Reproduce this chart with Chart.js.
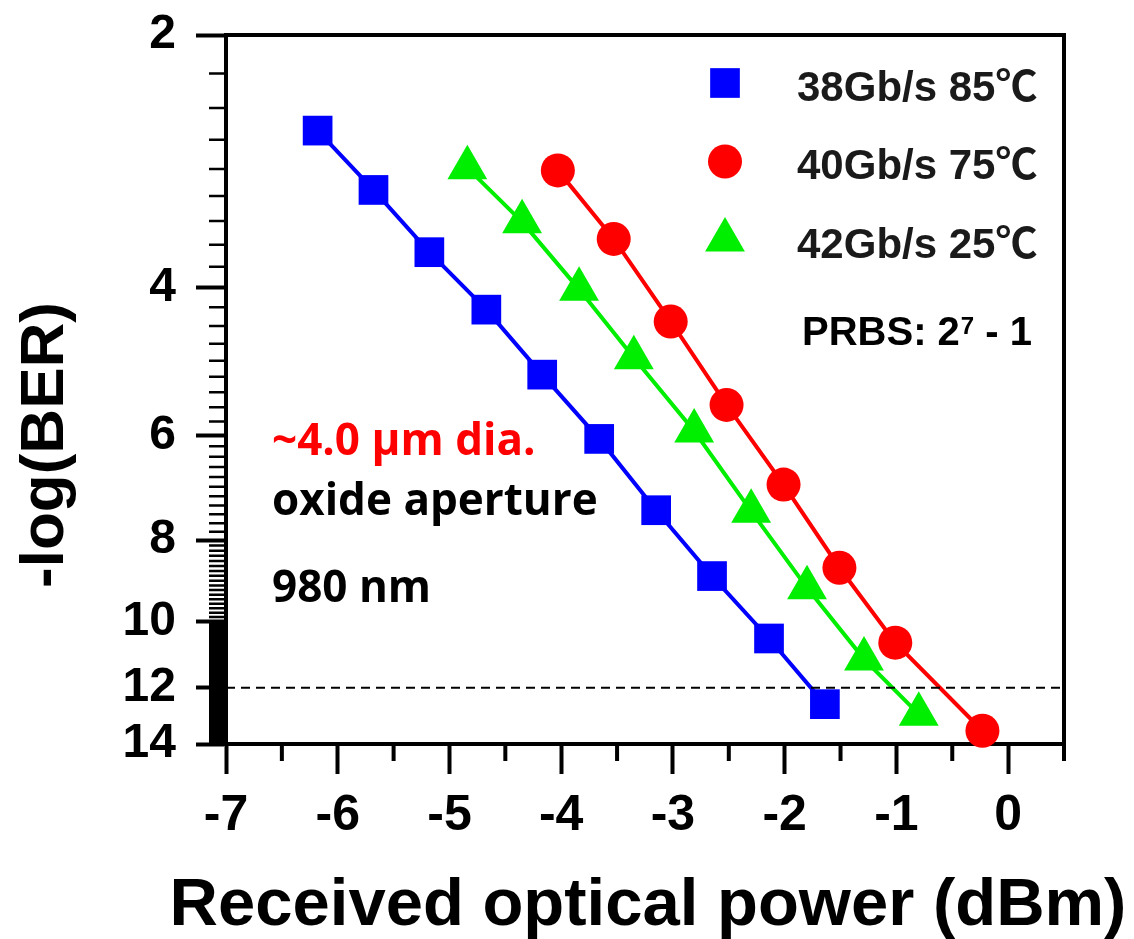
<!DOCTYPE html>
<html>
<head>
<meta charset="utf-8">
<title>BER vs received optical power</title>
<script src="https://cdn.jsdelivr.net/npm/chart.js@4.4.1/dist/chart.umd.min.js"></script>
<style>
  html, body { margin: 0; padding: 0; background: #fff; }
  #wrap { width: 1134px; height: 939px; }
</style>
</head>
<body>
<div id="wrap"><canvas id="ber" width="1134" height="939"></canvas></div>
<script>
// values: received power (dBm) and -log(BER)
const seriesLabels = ['38Gb/s 85℃', '40Gb/s 75℃', '42Gb/s 25℃'];
const power38 = [-6.18, -5.68, -5.18, -4.67, -4.17, -3.66, -3.15, -2.65, -2.14, -1.64];
const ber38 = [2.60, 3.06, 3.63, 4.25, 5.08, 6.06, 7.37, 8.83, 10.48, 12.55];
const power40 = [-4.03, -3.53, -3.02, -2.52, -2.01, -1.51, -1.01, -0.23];
const ber40 = [2.90, 3.50, 4.39, 5.52, 6.87, 8.63, 10.60, 13.50];
const power42 = [-4.84, -4.35, -3.84, -3.35, -2.81, -2.30, -1.80, -1.29, -0.80];
const ber42 = [2.88, 3.34, 4.02, 4.85, 5.93, 7.39, 9.12, 11.09, 12.90];
const errorFloor = 12; // dashed line
const xRange = [-7, 0.5];
const xTicks = [-7, -6, -5, -4, -3, -2, -1, 0];
const xMinor = [-6.5, -5.5, -4.5, -3.5, -2.5, -1.5, -0.5, 0.5];
const yTicks = [2, 4, 6, 8, 10, 12, 14];

const SANS = "'Liberation Sans', Arial, 'Noto Sans CJK SC', sans-serif";
const BLUE = '#0000ff';
const RED = '#ff0000';
const GREEN = '#00ee00';

function points(xs, ys) {
  return xs.map((x, i) => ({ x: x, y: ys[i] }));
}

// minor ticks on the BER axis get denser toward the bottom
function minorValues(stops, counts) {
  const out = [];
  for (let i = 0; i < counts.length; i++) {
    const a = stops[i], b = stops[i + 1], n = counts[i];
    for (let k = 1; k <= n; k++) out.push(a + (b - a) * k / (n + 1));
  }
  return out;
}
const yMinor = minorValues(yTicks, [8, 8, 10, 16, 30, 30]);

const decor = {
  id: 'decor',
  beforeDatasetsDraw(chart) {
    const { ctx, chartArea: a, scales: { x, y } } = chart;
    ctx.save();
    ctx.strokeStyle = '#000';
    ctx.lineWidth = 4;
    ctx.beginPath();
    ctx.moveTo(a.left, a.top);
    ctx.lineTo(a.right, a.top);
    ctx.lineTo(a.right, a.bottom);
    ctx.stroke();

    ctx.lineWidth = 2.5;
    ctx.beginPath();
    yMinor.forEach(v => {
      const py = y.getPixelForValue(v);
      ctx.moveTo(a.left - 17, py);
      ctx.lineTo(a.left, py);
    });
    ctx.stroke();

    ctx.lineWidth = 4;
    ctx.beginPath();
    xMinor.forEach(v => {
      const px = x.getPixelForValue(v);
      ctx.moveTo(px, a.bottom);
      ctx.lineTo(px, a.bottom + 17);
    });
    ctx.stroke();
    ctx.restore();
  },
  afterDraw(chart) {
    const ctx = chart.ctx;
    ctx.save();

    // axis titles (wider than the plot, so drawn here)
    ctx.fillStyle = '#000';
    ctx.font = 'bold 67px ' + SANS;
    ctx.textAlign = 'center';
    ctx.textBaseline = 'alphabetic';
    ctx.fillText('Received optical power (dBm)', 648, 925);

    ctx.font = 'bold 62px ' + SANS;
    ctx.textBaseline = 'middle';
    ctx.save();
    ctx.translate(46, 445);
    ctx.rotate(-Math.PI / 2);
    ctx.fillText('-log(BER)', 0, 0);
    ctx.restore();

    // legend
    const sets = chart.data.datasets.filter(ds => ds.label);
    ctx.textAlign = 'left';
    sets.forEach((ds, i) => {
      const cy = 83 + i * 78.5;
      ctx.fillStyle = ds.backgroundColor;
      ctx.strokeStyle = ds.borderColor;
      Chart.helpers.drawPoint(ctx, {
        pointStyle: ds.pointStyle, radius: ds.pointRadius, rotation: 0, borderWidth: 0
      }, 725, cy);
      ctx.fillStyle = '#1a1a1a';
      ctx.font = 'bold 42px ' + SANS;
      ctx.textBaseline = 'middle';
      ctx.fillText(ds.label, 797, cy + 6);
    });

    // PRBS: 2^7 - 1
    ctx.fillStyle = '#000';
    ctx.textBaseline = 'alphabetic';
    ctx.font = 'bold 40px ' + SANS;
    let px = 802;
    ctx.fillText('PRBS: 2', px, 345);
    px += ctx.measureText('PRBS: 2').width + 1;
    ctx.font = 'bold 24px ' + SANS;
    ctx.fillText('7', px, 334);
    px += ctx.measureText('7').width;
    ctx.font = 'bold 40px ' + SANS;
    ctx.fillText(' - 1', px, 345);

    // device notes
    ctx.font = "bold 44px 'Open Sans', " + SANS;
    ctx.fillStyle = '#ff0000';
    ctx.fillText('~4.0 μm dia.', 272, 455);
    ctx.fillStyle = '#000';
    ctx.fillText('oxide aperture', 272, 515);
    ctx.fillText('980 nm', 272, 602);
    ctx.restore();
  }
};

const series = (label, xs, ys, color, style, radius) => ({
  label: label,
  data: points(xs, ys),
  borderColor: color,
  backgroundColor: color,
  borderWidth: 4,
  pointStyle: style,
  pointRadius: radius,
  pointBorderWidth: 0,
  pointHoverRadius: radius,
  tension: 0,
  fill: false,
  clip: false,
  order: 1
});

new Chart(document.getElementById('ber').getContext('2d'), {
  type: 'line',
  data: {
    datasets: [
      series(seriesLabels[0], power38, ber38, BLUE, 'rect', 21),
      series(seriesLabels[1], power40, ber40, RED, 'circle', 17),
      series(seriesLabels[2], power42, ber42, GREEN, 'triangle', 23),
      {
        label: '',
        data: [{ x: xRange[0], y: errorFloor }, { x: xRange[1], y: errorFloor }],
        borderColor: '#000',
        borderWidth: 2,
        borderDash: [9, 6],
        pointRadius: 0,
        fill: false,
        order: 0
      }
    ]
  },
  options: {
    responsive: false,
    animation: false,
    events: [],
    layout: { padding: { top: 35, right: 70, left: 0, bottom: 0 } },
    plugins: {
      legend: { display: false },
      tooltip: { enabled: false }
    },
    scales: {
      x: {
        type: 'linear',
        min: xRange[0],
        max: xRange[1],
        afterBuildTicks: s => { s.ticks = xTicks.map(v => ({ value: v })); },
        afterFit: s => { s.height = 195; s.paddingLeft = 0; s.paddingRight = 0; },
        border: { display: true, color: '#000', width: 4 },
        grid: { display: true, drawOnChartArea: false, drawTicks: true, tickLength: 30, tickWidth: 4, tickColor: '#000' },
        ticks: {
          color: '#000',
          font: { family: SANS, size: 50, weight: 'bold' },
          padding: 12,
          autoSkip: false,
          maxRotation: 0,
          callback: v => String(v)
        },
        title: { display: false }
      },
      y: {
        type: 'logarithmic',
        min: 2,
        max: 14,
        reverse: true,
        afterBuildTicks: s => { s.ticks = yTicks.map(v => ({ value: v })); },
        afterFit: s => { s.width = 226; s.paddingTop = 0; s.paddingBottom = 0; },
        border: { display: true, color: '#000', width: 4 },
        grid: { display: true, drawOnChartArea: false, drawTicks: true, tickLength: 30, tickWidth: 4, tickColor: '#000' },
        ticks: {
          color: '#000',
          font: { family: SANS, size: 48, weight: 'bold' },
          padding: 20,
          autoSkip: false,
          callback: v => String(v)
        },
        title: { display: false }
      }
    }
  },
  plugins: [decor]
});
</script>
</body>
</html>
